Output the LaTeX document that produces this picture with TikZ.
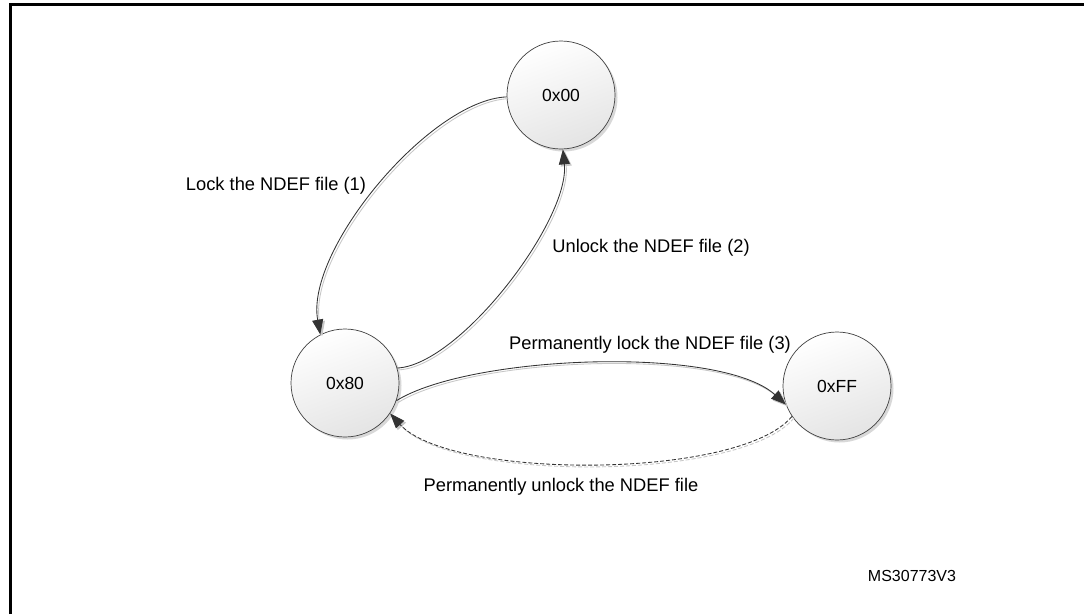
\documentclass[tikz,border=0pt]{standalone}
\usepackage{fontspec}
\setmainfont{Liberation Sans}
\usetikzlibrary{arrows.meta,shadows}
\definecolor{edgecol}{HTML}{333333}
\definecolor{circfill}{HTML}{E4E4E4}
\tikzset{
  state/.style={circle, draw=black!75, line width=0.7pt, minimum size=108pt, inner sep=0pt,
    top color=white, bottom color=circfill, shading angle=20,
    drop shadow={shadow xshift=2.5pt, shadow yshift=-2.5pt, opacity=0.25, fill=black!60},
    font=\fontsize{17.5}{20}\selectfont},
  lbl/.style={font=\fontsize{18.3}{21}\selectfont, inner sep=0pt},
  edge/.style={draw=edgecol, line width=0.85pt, -{Triangle[length=15pt,width=11pt]}},
  edgeshadow/.style={draw=black!22, line width=0.85pt, -{Triangle[length=15pt,width=11pt]},
    transform canvas={shift={(1.8,1.8)}}},
  dashes/.style={dash pattern=on 4pt off 2pt}
}
\begin{document}
\begin{tikzpicture}[x=1pt,y=-1pt]
\useasboundingbox (0,0) rectangle (1084,614);
\fill[white] (0,0) rectangle (1084,614);
\draw[line width=2.6pt] (10.5,614) -- (10.5,4.2) -- (1084,4.2);

\node[state] (n00) at (561,95) {0x00};
\node[state] (n80) at (345,383) {0x80};
\node[state] (nFF) at (837,386) {0xFF};

% shadows of connectors
\draw[edgeshadow] (n00.182) .. controls (430,100) and (305,250) .. (n80.117);
\draw[edgeshadow] (n80.16) .. controls (460,365) and (570,220) .. (n00.272);
\draw[edgeshadow] (n80.341) .. controls (470,355) and (720,345) .. (nFF.200);
\draw[edgeshadow,dashes] (nFF.214) .. controls (740,480) and (450,480) .. (n80.326);

% connectors
\draw[edge] (n00.182) .. controls (430,100) and (305,250) .. (n80.117);
\draw[edge] (n80.16) .. controls (460,365) and (570,220) .. (n00.272);
\draw[edge] (n80.341) .. controls (470,355) and (720,345) .. (nFF.200);
\draw[edge,dashes] (nFF.214) .. controls (740,480) and (450,480) .. (n80.326);

\node[lbl] (l1) at (276,186) {Lock the NDEF file (1)};
\node[lbl] (l2) at (651,248) {Unlock the NDEF file (2)};
\node[lbl] (l3) at (650,345) {Permanently lock the NDEF file (3)};
\node[lbl] (l4) at (561,487) {Permanently unlock the NDEF file};
\node[font=\fontsize{16}{19}\selectfont, inner sep=0pt] (ms) at (912,576) {MS30773V3};
\end{tikzpicture}
\end{document}
